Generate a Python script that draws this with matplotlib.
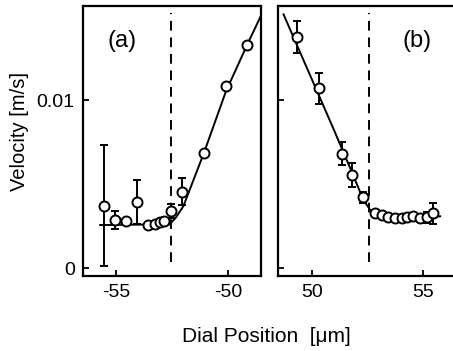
import matplotlib
matplotlib.use("Agg")
import matplotlib.pyplot as plt
import numpy as np

# panel (a) data, negative dial side
xa = [-55.54, -55.06, -54.58, -54.09, -53.59, -53.27, -53.04, -52.87, -52.57, -52.06, -51.07, -50.10, -49.14]
ya = [0.00372, 0.00287, 0.00283, 0.00396, 0.00257, 0.00267, 0.00273, 0.00281, 0.00340, 0.00455, 0.00687, 0.01085, 0.01327]
erra = [0.0036, 0.00055, 0, 0.0013, 0, 0, 0, 0, 0.00043, 0.0008, 0, 0.00012, 0]
# fitted curve (a)
fita_x = [-55.73, -52.62, -52.35, -52.0, -51.07, -50.10, -49.14, -48.46]
fita_y = [0.00258, 0.00262, 0.0030, 0.0037, 0.0069, 0.0105, 0.0133, 0.0152]
edge_a = -52.55

# panel (b) data, positive dial side
xb = [49.33, 50.30, 51.35, 51.82, 52.28, 52.84, 53.14, 53.43, 53.74, 54.04, 54.26, 54.53, 54.86, 55.16, 55.41]
yb = [0.01376, 0.01070, 0.00683, 0.00554, 0.00422, 0.00330, 0.00317, 0.00307, 0.00297, 0.00297, 0.00307, 0.00311, 0.00297, 0.00303, 0.00327]
errb = [0.00095, 0.0009, 0.0007, 0.0007, 0.00035, 0, 0, 0, 0, 0, 0, 0.0002, 0, 0.00035, 0.0006]
fitb_x = [48.73, 51.0, 51.8, 52.3, 52.7, 53.5, 54.5, 55.75]
fitb_y = [0.0151, 0.0082, 0.0057, 0.0041, 0.0033, 0.0030, 0.0030, 0.0031]
edge_b = 52.58

plt.rcParams['font.family'] = ['Liberation Sans', 'DejaVu Sans']
plt.rcParams['axes.unicode_minus'] = False
plt.rcParams['font.size'] = 14

fig = plt.figure(figsize=(4.53, 3.51), dpi=100)
ax1 = fig.add_axes([0.1832, 0.2137, 0.394, 0.7692])
ax2 = fig.add_axes([0.6146, 0.2137, 0.394, 0.7692])


def draw_panel(ax, x, y, err, fx, fy, edge, label, lx):
    x = np.array(x)
    y = np.array(y)
    err = np.array(err)
    ax.plot(fx, fy, color='k', lw=1.4, zorder=2)
    m = err > 0
    ax.errorbar(x[m], y[m], yerr=err[m], fmt='none', ecolor='k', elinewidth=1.4,
                capsize=3, capthick=1.4, zorder=3)
    ax.plot(x, y, 'o', ms=7.2, mfc='white', mec='k', mew=1.4, zorder=4)
    ax.axvline(edge, ymin=0.05, ymax=0.975, color='k', lw=1.4, dashes=(5, 3.5))
    ax.text(lx, 0.871, label, transform=ax.transAxes, fontsize=17, ha='center', va='center')
    ax.set_ylim(-0.00045, 0.0156)
    ax.set_yticks([0, 0.01])
    ax.tick_params(direction='in', length=4, width=1.3, labelsize=14)
    ax.tick_params(axis='x', pad=6)
    ax.tick_params(axis='y', pad=6)
    for s in ax.spines.values():
        s.set_linewidth(1.6)


draw_panel(ax1, xa, ya, erra, fita_x, fita_y, edge_a, "(a)", 0.217)
ax1.set_xlim(-56.5, -48.5)
ax1.set_xticks([-55, -50])
ax1.set_xticklabels(["-55", "-50"])
ax1.set_yticklabels(["0", "0.01"])
ax1.set_ylabel("Velocity [m/s]", fontsize=14.5)
ax1.yaxis.set_label_coords(-0.30, 0.535)

draw_panel(ax2, xb, yb, errb, fitb_x, fitb_y, edge_b, "(b)", 0.775)
ax2.set_xlim(48.5, 56.5)
ax2.set_xticks([50, 55])
ax2.set_yticklabels([])

fig.text(0.589, 0.04, "Dial Position  [\u03bcm]", ha='center', va='center', fontsize=15)

plt.savefig("out.png", dpi=100, facecolor='w', edgecolor='w')
